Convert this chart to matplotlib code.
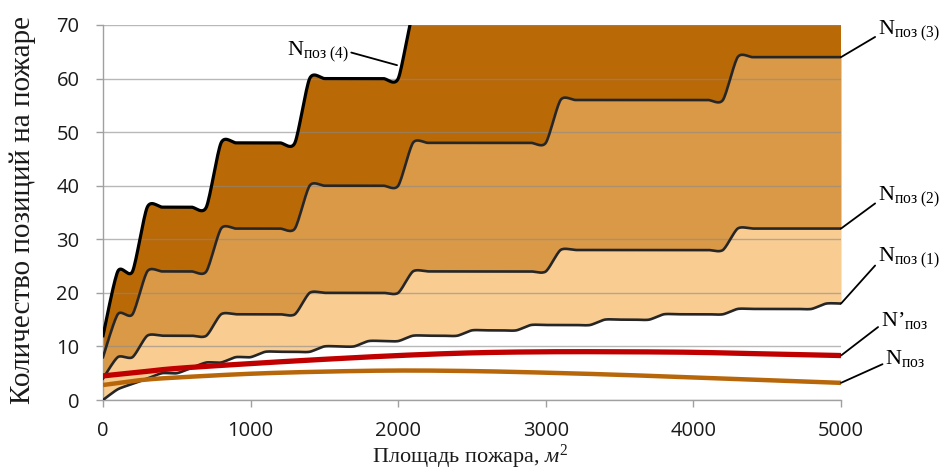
import numpy as np
import matplotlib
matplotlib.use("Agg")
import matplotlib.pyplot as plt

plt.rcParams['mathtext.fontset'] = 'custom'
plt.rcParams['mathtext.rm'] = 'Liberation Serif'
plt.rcParams['mathtext.it'] = 'Liberation Serif:italic'

# fire area, m2 (step 100)
area = list(range(0, 5001, 100))

# number of positions for the staircase scenarios
n_poz_1 = [0, 2, 3, 4, 5, 5, 6, 7, 7, 8, 8, 9, 9, 9, 9,
           10, 10, 10, 11, 11, 11, 12, 12, 12, 12, 13, 13, 13, 13,
           14, 14, 14, 14, 14, 15, 15, 15, 15, 16, 16, 16, 16, 16,
           17, 17, 17, 17, 17, 17, 18, 18]
n_poz_2 = [4, 8, 8, 12, 12, 12, 12, 12, 16, 16, 16, 16, 16, 16,
           20, 20, 20, 20, 20, 20, 20, 24, 24, 24, 24, 24, 24, 24, 24, 24, 24,
           28, 28, 28, 28, 28, 28, 28, 28, 28, 28, 28, 28,
           32, 32, 32, 32, 32, 32, 32, 32]
n_poz_3 = [8, 16, 16, 24, 24, 24, 24, 24, 32, 32, 32, 32, 32, 32,
           40, 40, 40, 40, 40, 40, 40, 48, 48, 48, 48, 48, 48, 48, 48, 48, 48,
           56, 56, 56, 56, 56, 56, 56, 56, 56, 56, 56, 56,
           64, 64, 64, 64, 64, 64, 64, 64]
n_poz_4 = [12, 24, 24, 36, 36, 36, 36, 36, 48, 48, 48, 48, 48, 48,
           60, 60, 60, 60, 60, 60, 60, 72, 72, 72, 72, 72, 72, 72, 72, 72, 72,
           84, 84, 84, 84, 84, 84, 84, 84, 84, 84, 84, 84,
           96, 96, 96, 96, 96, 96, 96, 96]

# smooth curves N'поз and Nпоз
area_c = [0, 250, 500, 1000, 1500, 2000, 2500, 3000, 3500, 4000, 4500, 5000]
n_poz_prime = [4.5, 5.2, 5.9, 6.8, 7.6, 8.3, 8.8, 9.0, 9.0, 8.9, 8.6, 8.3]
n_poz = [2.8, 3.7, 4.2, 4.9, 5.3, 5.5, 5.4, 5.1, 4.7, 4.2, 3.7, 3.2]


def smooth(xs, ys, k=8.0, n=16):
    # bezier smoothing like a spreadsheet "smoothed line"
    p = np.column_stack([xs, ys]).astype(float)
    ext = np.vstack([p[0], p, p[-1]])
    t = np.linspace(0, 1, n + 1)[1:, None]
    out = [p[:1]]
    for i in range(len(p) - 1):
        p0, p1, p2, p3 = ext[i], ext[i + 1], ext[i + 2], ext[i + 3]
        b1 = p1 + (p2 - p0) / k
        b2 = p2 - (p3 - p1) / k
        seg = ((1 - t) ** 3) * p1 + 3 * ((1 - t) ** 2) * t * b1 \
            + 3 * (1 - t) * t ** 2 * b2 + t ** 3 * p2
        out.append(seg)
    c = np.vstack(out)
    return c[:, 0], c[:, 1]


xs, y1 = smooth(area, n_poz_1)
_, y2 = smooth(area, n_poz_2)
_, y3 = smooth(area, n_poz_3)
_, y4 = smooth(area, n_poz_4)
xc, yp = smooth(area_c, n_poz_prime, k=6.0)
_, yn = smooth(area_c, n_poz, k=6.0)

fig = plt.figure(figsize=(9.48, 4.74), dpi=100)
ax = fig.add_axes([103 / 948, 1 - 400 / 474, 738 / 948, 375 / 474])

ax.fill_between(xs, y1, y2, color='#F9CC92', lw=0, zorder=1)
ax.fill_between(xs, y2, y3, color='#DA9947', lw=0, zorder=1)
ax.fill_between(xs, y3, y4, color='#B96906', lw=0, zorder=1)

ax.plot(xs, y1, color='#262626', lw=1.9, zorder=3)
ax.plot(xs, y2, color='#262626', lw=1.9, zorder=3)
ax.plot(xs, y3, color='#262626', lw=1.9, zorder=3)
ax.plot(xs, y4, color='black', lw=2.3, zorder=3)
ax.plot(xc, yp, color='#C00000', lw=3.8, zorder=4, solid_capstyle='butt')
ax.plot(xc, yn, color='#B8660A', lw=3.2, zorder=4, solid_capstyle='butt')

ax.set_xlim(0, 5000)
ax.set_ylim(0, 70)
ax.set_xticks(range(0, 5001, 1000))
ax.set_yticks(range(0, 71, 10))
ax.set_axisbelow('line')
ax.yaxis.grid(True, color='#8a8a8a', lw=1.0, alpha=0.6)

for s in ['top', 'right']:
    ax.spines[s].set_visible(False)
for s in ['left', 'bottom']:
    ax.spines[s].set_color('#a0a0a0')
    ax.spines[s].set_linewidth(1.0)
ax.tick_params(axis='both', colors='#a0a0a0', length=5, width=1.0,
               labelcolor='#1a1a1a', labelsize=14.5)
ax.tick_params(axis='x', pad=10)
ax.tick_params(axis='y', pad=12)
for lab in ax.get_xticklabels() + ax.get_yticklabels():
    lab.set_family('Open Sans')

fig.text(23 / 948, 1 - 210 / 474, 'Количество позиций на пожаре',
         rotation=90, ha='center', va='center', fontsize=21,
         family='Liberation Serif', color='#1a1a1a')
fig.text(470 / 948, 1 - 457 / 474, r'Площадь пожара, $\mathit{м}^2$',
         ha='center', va='center', fontsize=16,
         family='Liberation Serif', color='#1a1a1a')

line_kw = dict(arrowstyle='-', color='black', lw=1.3, shrinkA=0, shrinkB=0)
labels = [
    (r'N$_{\mathrm{поз\ (3)}}$', (5000, 64), (5250, 69.0)),
    (r'N$_{\mathrm{поз\ (2)}}$', (5000, 32), (5250, 38.0)),
    (r'N$_{\mathrm{поз\ (1)}}$', (5000, 18), (5250, 26.6)),
    (r'N’$_{\mathrm{поз}}$', (5000, 8.3), (5270, 14.8)),
    (r'N$_{\mathrm{поз}}$', (5000, 3.2), (5300, 7.7)),
]
for text, xy, xyt in labels:
    ax.annotate(text, xy=xy, xytext=xyt, ha='left', va='center',
                fontsize=16, family='Liberation Serif',
                arrowprops=dict(relpos=(0, 0.3), **line_kw),
                annotation_clip=False, zorder=5)

ax.annotate(r'N$_{\mathrm{поз\ (4)}}$', xy=(1992, 62.5), xytext=(1245, 65.0),
            ha='left', va='center', fontsize=16, family='Liberation Serif',
            arrowprops=dict(relpos=(1, 0.5), **line_kw),
            annotation_clip=False, zorder=5)

fig.savefig('out.png', dpi=100)
